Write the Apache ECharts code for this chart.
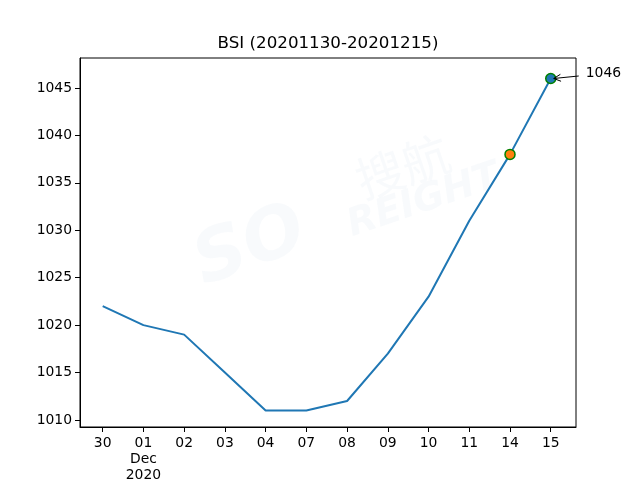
<!DOCTYPE html>
<html><head><meta charset="utf-8">
<script src="https://cdn.jsdelivr.net/npm/echarts@6/dist/echarts.min.js"></script>
<style>html,body{margin:0;padding:0;background:#fff}#c{width:640px;height:480px}</style>
</head><body><div id="c"></div>
<script>
const categories = ['30','01','02','03','04','07','08','09','10','11','14','15'];
const tickLabels = ['30','01\nDec\n2020','02','03','04','07','08','09','10','11','14','15'];
const bsi = [1022,1020,1019,1015,1011,1011,1012,1017,1023,1031,1038,1046];
const yTicks = [1010,1015,1020,1025,1030,1035,1040,1045];
const prevIdx = 10;
const lastIdx = 11;
const titleText = 'BSI (20201130-20201215)';

const FONT = 'DejaVu Sans';
const chart = echarts.init(document.getElementById('c'), null, {renderer:'canvas'});
const xIdx = categories.map((_, i) => i);
const lineData = bsi.map((v, i) => [i, v]);

chart.setOption({
  animation: false,
  backgroundColor: '#fff',
  title: {
    text: titleText, left: 328, top: 35, textAlign: 'center', padding: 0,
    textStyle: {fontFamily: FONT, fontSize: 16.7, fontWeight: 'normal', color: '#000'}
  },
  grid: {left: 80, right: 64, top: 58, bottom: 53, outerBoundsMode: 'none', containLabel: false,
         show: true, borderColor: '#000', borderWidth: 1, backgroundColor: 'transparent'},
  xAxis: {
    type: 'value', min: -0.557, max: 11.62,
    axisLine: {show: true, onZero: false, lineStyle: {color: '#000', width: 1}},
    axisTick: {show: true, length: 5, customValues: xIdx, lineStyle: {color: '#000'}},
    axisLabel: {customValues: xIdx, formatter: v => tickLabels[Math.round(v)], fontFamily: FONT, fontSize: 13.9, color: '#000', margin: 8, lineHeight: 16},
    splitLine: {show: false}
  },
  yAxis: {
    type: 'value', min: 1009.26, max: 1048.16,
    axisLine: {show: true, onZero: false, lineStyle: {color: '#000', width: 1}},
    axisTick: {show: true, length: 5, customValues: yTicks, lineStyle: {color: '#000'}},
    axisLabel: {customValues: yTicks, formatter: v => String(v), fontFamily: FONT, fontSize: 13.9, color: '#000', margin: 8},
    splitLine: {show: false}
  },
  series: [
    {type: 'line', data: lineData, showSymbol: false, lineStyle: {color: '#1f77b4', width: 2}, z: 2},
    {type: 'scatter', data: [[prevIdx, bsi[prevIdx]]], symbolSize: 10,
     itemStyle: {color: '#ff7f0e', borderColor: '#008000', borderWidth: 1.5, opacity: 1}, z: 3},
    {type: 'scatter', data: [[lastIdx, bsi[lastIdx]]], symbolSize: 10,
     itemStyle: {color: '#1f77b4', borderColor: '#008000', borderWidth: 1.5, opacity: 1}, z: 3}
  ]
});

const p = chart.convertToPixel({gridIndex: 0}, [lastIdx, bsi[lastIdx]]);
const tail = [p[0] + 28, p[1] - 2.5];
const tip = [p[0] + 3, p[1]];
const dx = tip[0] - tail[0], dy = tip[1] - tail[1];
const len = Math.hypot(dx, dy);
const ux = dx / len, uy = dy / len;
const hl = 7, hw = 3.5;
const h1 = [tip[0] - ux * hl - uy * hw, tip[1] - uy * hl + ux * hw];
const h2 = [tip[0] - ux * hl + uy * hw, tip[1] - uy * hl - ux * hw];
const wmColor = 'rgba(200,215,230,0.12)';
chart.setOption({
  graphic: [
    {type: 'text', left: 185, top: 195, rotation: 0.35, z: -1, silent: true,
     style: {text: 'SO', fill: wmColor, font: 'italic bold 72px "DejaVu Sans"'}},
    {type: 'text', x: 365, y: 205, rotation: 0.33, z: -1, silent: true,
     style: {text: '搜航', fill: wmColor, font: '48px "Noto Sans CJK SC"', verticalAlign: 'bottom'}},
    {type: 'text', x: 355, y: 245, rotation: 0.33, z: -1, silent: true,
     style: {text: 'REIGHT', fill: wmColor, font: 'italic bold 38px "DejaVu Sans"', verticalAlign: 'bottom'}},
    {type: 'polyline', shape: {points: [tail, tip]}, style: {stroke: '#000', lineWidth: 1, fill: null}, z: 10},
    {type: 'polyline', shape: {points: [h1, tip, h2]}, style: {stroke: '#000', lineWidth: 1, fill: null}, z: 10},
    {type: 'text', x: p[0] + 35, y: p[1] - 5, z: 10,
     style: {text: String(bsi[lastIdx]), fill: '#000', font: '13.9px "DejaVu Sans"', verticalAlign: 'middle', align: 'left'}}
  ]
});
</script></body></html>
